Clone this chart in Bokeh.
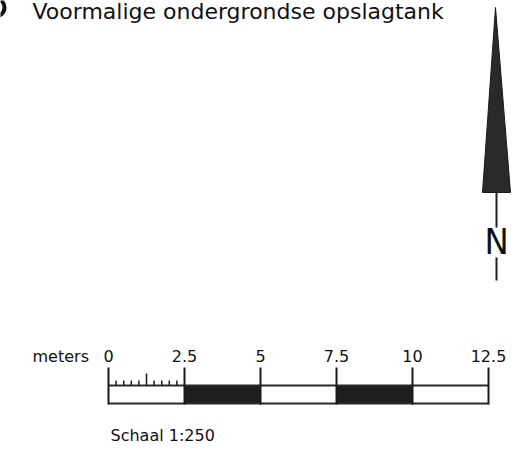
from bokeh.plotting import figure
from bokeh.models import Range1d
from bokeh.core.properties import value
from bokeh.embed import file_html
from bokeh.resources import INLINE

# ---- data ----
title_text = "Voormalige ondergrondse opslagtank"
unit_label = "meters"
scale_label = "Schaal  1:250"
north_label = "N"
bar_edges = [0, 2.5, 5, 7.5, 10, 12.5]
tick_labels = ["0", "2.5", "5", "7.5", "10", "12.5"]
segment_left = [0, 2.5, 5, 7.5, 10]
segment_right = [2.5, 5, 7.5, 10, 12.5]
segment_colors = ["white", "#1e1e1e", "white", "#1e1e1e", "white"]
minor_ticks = [0.25, 0.5, 0.75, 1.0, 1.25, 1.5, 1.75, 2.0, 2.25]
minor_tops = [380, 380, 380, 380, 373, 380, 380, 380, 380]

W, H = 526, 450
PX_PER_M = 30.4
X0 = 108  # pixel x of the 0 m mark
FONT = value("DejaVu Sans")

p = figure(width=W, height=H, output_backend="svg", toolbar_location=None,
           x_range=Range1d(-X0 / PX_PER_M, (W - X0) / PX_PER_M),
           y_range=Range1d(H, 0),
           min_border=0, outline_line_color=None)
p.extra_x_ranges = {"px": Range1d(0, W)}
p.axis.visible = False
p.grid.visible = False
p.background_fill_color = "white"
p.border_fill_color = "white"

# partial symbol at top-left edge
p.circle(x=[-5], y=[7], radius=9, x_range_name="px", fill_color=None,
         line_color="#111111", line_width=4)

# title
p.text(x=[32], y=[11], text=[title_text], x_range_name="px", text_font=FONT,
       text_font_size="22px", text_color="#111111", text_baseline="alphabetic")

# north arrow
p.patch(x=[495, 482, 510], y=[7, 192, 192], x_range_name="px",
        fill_color="#2a2a2a", line_color="#1a1a1a", line_width=1)
p.segment(x0=[496, 496], y0=[192, 257], x1=[496, 496], y1=[227, 280],
          x_range_name="px", line_color="#222222", line_width=2)
p.text(x=[496], y=[241], text=[north_label], x_range_name="px",
       text_font=value("'DejaVu Sans Condensed', 'Liberation Sans Narrow', 'Liberation Sans'"),
       text_font_size="36px", text_color="#111111", text_align="center",
       text_baseline="alphabetic")

# scale bar
p.quad(left=segment_left, right=segment_right, top=385, bottom=403,
       fill_color=segment_colors, line_color=None)
p.segment(x0=[0, 0], y0=[385, 403], x1=[12.5, 12.5], y1=[385, 403],
          line_color="#2a2a2a", line_width=2)
p.segment(x0=bar_edges, y0=[367] * len(bar_edges), x1=bar_edges,
          y1=[404] * len(bar_edges), line_color="#1a1a1a", line_width=2)
p.segment(x0=minor_ticks, y0=minor_tops, x1=minor_ticks,
          y1=[385] * len(minor_ticks), line_color="#1a1a1a", line_width=1.5)
p.text(x=bar_edges, y=[355] * len(bar_edges), text=tick_labels, text_font=FONT,
       text_font_size="16px", text_color="#111111", text_align="center",
       text_baseline="alphabetic")
p.text(x=[32], y=[356], text=[unit_label], x_range_name="px", text_font=FONT,
       text_font_size="16px", text_color="#111111", text_baseline="alphabetic")
p.text(x=[110], y=[435], text=[scale_label], x_range_name="px", text_font=FONT,
       text_font_size="16px", text_color="#111111", text_baseline="alphabetic")

open("out.html", "w").write(file_html(p, INLINE))
